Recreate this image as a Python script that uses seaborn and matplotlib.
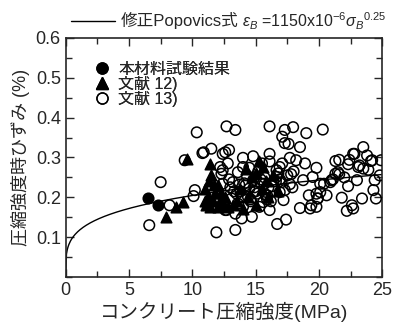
import numpy as np
import pandas as pd
import seaborn as sns
import matplotlib
matplotlib.use("Agg")
import matplotlib.pyplot as plt
from matplotlib.lines import Line2D
from matplotlib.ticker import MultipleLocator

# 本材料試験結果
own_x = [6.5, 7.3]
own_y = [0.197, 0.180]

# 文献12)
ref12_x = [7.9, 8.75, 9.3, 9.55, 11.4, 11.2, 11.0, 11.3, 11.5, 11.1, 11.4, 11.6, 11.8, 12.0,
           12.2, 12.5, 12.8, 13.2, 13.5, 14.0, 14.4, 15.0, 15.3, 15.5, 15.8, 16.0, 16.4, 15.0,
           14.7, 16.8, 12.0, 12.6, 13.8, 14.2, 15.6, 11.0, 11.7, 12.3]
ref12_y = [0.150, 0.176, 0.188, 0.297, 0.284, 0.200, 0.220, 0.240, 0.255, 0.180, 0.175, 0.190,
           0.210, 0.175, 0.190, 0.180, 0.175, 0.180, 0.190, 0.170, 0.200, 0.180, 0.290, 0.220,
           0.240, 0.200, 0.255, 0.260, 0.250, 0.215, 0.230, 0.200, 0.220, 0.270, 0.275, 0.190,
           0.230, 0.210]

# 文献13)
ref13_x = [6.6, 7.5, 8.2, 9.4, 10.2, 10.1, 10.8, 11.5, 12.4, 12.7, 10.35, 11.9, 12.4, 12.3,
           12.4, 12.6, 13.4, 16.1, 17.3, 17.96, 17.1, 17.3, 17.6, 19.0, 20.3, 18.5, 23.5, 10.9,
           12.6, 12.9, 16.1, 14.0, 14.8, 17.7, 18.2, 22.8, 21.3, 21.6, 22.4, 22.3, 23.2, 23.5,
           23.9, 24.2, 24.9, 19.8, 21.3, 21.6, 21.0, 22.3, 23.0, 24.4, 24.3, 24.5, 23.4, 21.8,
           22.6, 22.2, 22.7, 20.1, 20.4, 19.8, 19.9, 19.4, 19.3, 18.5, 18.75, 19.5, 17.7, 17.3,
           17.2, 16.7, 17.4, 13.4, 13.9, 14.7, 13.4, 12.7, 16.1, 15.3, 14.0, 13.6, 12.2, 13.6,
           14.0, 14.5, 13.2, 14.8, 14.5, 15.1, 15.9, 16.65, 17.05, 16.65, 16.9, 17.8, 15.7, 16.0,
           13.1, 13.5, 14.4, 15.6, 16.9, 24.1, 22.7, 23.1, 20.9, 21.5, 20.1, 19.9, 19.8, 22.0,
           14.2, 15.0, 15.4, 14.6, 15.2, 13.8, 16.3, 16.6, 15.8, 14.9, 13.0, 16.2, 17.5, 18.0,
           15.5, 14.3, 16.8, 13.7, 15.9, 12.9, 17.9, 18.9, 19.2, 20.6, 21.1, 24.8, 23.8,
           13.3, 14.1, 14.9, 15.7, 16.4, 17.1, 13.9, 14.6, 15.4, 16.1, 16.9, 12.8]
ref13_y = [0.130, 0.238, 0.180, 0.293, 0.218, 0.203, 0.311, 0.322, 0.309, 0.378, 0.363, 0.112,
           0.268, 0.259, 0.234, 0.168, 0.369, 0.378, 0.369, 0.376, 0.352, 0.336, 0.334, 0.361,
           0.370, 0.326, 0.326, 0.313, 0.313, 0.319, 0.309, 0.299, 0.303, 0.299, 0.293, 0.309,
           0.291, 0.294, 0.294, 0.283, 0.280, 0.272, 0.269, 0.293, 0.293, 0.274, 0.259, 0.258,
           0.243, 0.228, 0.243, 0.243, 0.218, 0.197, 0.197, 0.199, 0.180, 0.166, 0.172, 0.234,
           0.234, 0.209, 0.197, 0.180, 0.172, 0.173, 0.243, 0.251, 0.233, 0.218, 0.193, 0.133,
           0.144, 0.118, 0.147, 0.151, 0.159, 0.168, 0.168, 0.176, 0.176, 0.184, 0.276, 0.263,
           0.276, 0.274, 0.238, 0.243, 0.222, 0.209, 0.205, 0.251, 0.238, 0.268, 0.276, 0.258,
           0.234, 0.224, 0.197, 0.209, 0.201, 0.188, 0.213, 0.291, 0.309, 0.276, 0.238, 0.263,
           0.213, 0.197, 0.176, 0.250,
           0.230, 0.215, 0.245, 0.195, 0.265, 0.215, 0.228, 0.240, 0.205, 0.225, 0.225, 0.190,
           0.255, 0.265, 0.285, 0.255, 0.260, 0.232, 0.195, 0.245, 0.225, 0.285, 0.205, 0.205,
           0.245, 0.255, 0.305,
           0.215, 0.235, 0.215, 0.250, 0.240, 0.285, 0.200, 0.190, 0.235, 0.290, 0.245, 0.285]

# 修正Popovics式 eps_B = 1150e-6 * sigma_B^0.25 (in %)
coef = 1150e-6 * 100
power = 0.25
sigma = np.linspace(0, 25, 400)
curve = pd.DataFrame({"x": sigma, "y": coef * sigma ** power})

sns.set_style("ticks")
plt.rcParams["font.family"] = ["Liberation Sans", "Noto Sans CJK JP"]
plt.rcParams["mathtext.fontset"] = "custom"
plt.rcParams["mathtext.rm"] = "Liberation Sans"
plt.rcParams["mathtext.it"] = "Liberation Sans:italic"

fig = plt.figure(figsize=(3.98, 3.27), dpi=100)
ax = fig.add_axes([0.165, 0.153, 0.7955, 0.731])

sns.lineplot(data=curve, x="x", y="y", ax=ax, color="black", lw=1.0)
mk = dict(s=58, linewidth=1.1, edgecolor="black", ax=ax, zorder=3)
sns.scatterplot(x=ref13_x, y=ref13_y, marker="o", facecolor="none", **mk)
sns.scatterplot(x=ref12_x, y=ref12_y, marker="^", color="black", **mk)
sns.scatterplot(x=own_x, y=own_y, marker="o", color="black", **mk)

ax.set_xlim(0, 25)
ax.set_ylim(0, 0.6)
ax.xaxis.set_major_locator(MultipleLocator(5))
ax.xaxis.set_minor_locator(MultipleLocator(2.5))
ax.yaxis.set_major_locator(MultipleLocator(0.1))
ax.yaxis.set_minor_locator(MultipleLocator(0.05))
ax.set_yticks([0.1, 0.2, 0.3, 0.4, 0.5, 0.6])
ax.set_xticks([0, 5, 10, 15, 20, 25])
ax.tick_params(which="both", direction="in", top=True, right=True, labelsize=13, width=1)
ax.tick_params(which="major", length=6)
ax.tick_params(which="minor", length=4)
ax.set_yticklabels(["0.1", "0.2", "0.3", "0.4", "0.5", "0.6"])
for s in ax.spines.values():
    s.set_linewidth(1.2)

ax.set_xlabel("コンクリート圧縮強度(MPa)", fontsize=14, labelpad=2)
ax.set_ylabel("圧縮強度時ひずみ (%)", fontsize=13, labelpad=4)

h = [Line2D([], [], ls="none", marker="o", color="black", ms=8),
     Line2D([], [], ls="none", marker="^", color="black", ms=8),
     Line2D([], [], ls="none", marker="o", mfc="none", mec="black", ms=8)]
leg = ax.legend(h, ["本材料試験結果", "文献 12)", "文献 13)"], loc="upper left",
                bbox_to_anchor=(0.06, 0.935), frameon=False, fontsize=11.5,
                handletextpad=0.4, labelspacing=-0.05, borderpad=0, handlelength=1.2)
ax.add_artist(leg)

line_h = [Line2D([], [], color="black", lw=1)]
fig.legend(line_h, ["修正Popovics式"],
           loc="center left", bbox_to_anchor=(0.158, 0.936), frameon=False, fontsize=12,
           handlelength=2.6, handletextpad=0.35, borderpad=0)
fig.text(0.607, 0.935, r"$\varepsilon_B$ =1150x10$^{-6}$$\sigma_B$$^{0.25}$",
         fontsize=11.5, va="center", ha="left")

fig.savefig("out.png", dpi=100)
